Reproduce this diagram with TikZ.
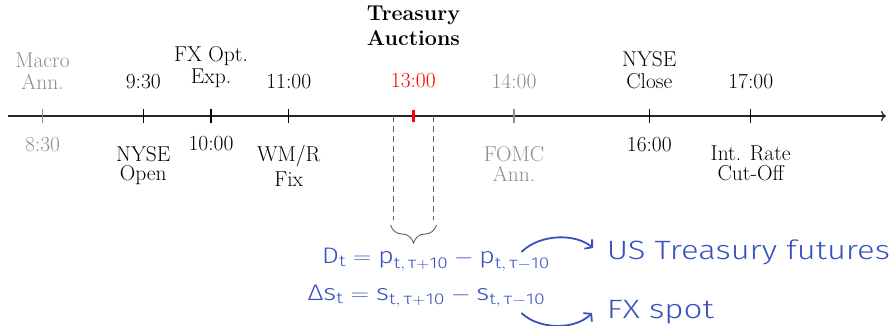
\documentclass[tikz,border=0pt]{standalone}
\usepackage{amsmath}
\usepackage{graphicx}
\usepackage{fontspec}
\newfontfamily\handfont{Fira Sans Light}
\usetikzlibrary{arrows.meta,decorations.pathreplacing}
\definecolor{hblue}{RGB}{55,80,190}
\definecolor{lgray}{RGB}{140,140,140}
\definecolor{dgray}{RGB}{95,95,95}
\newcommand{\hf}[1]{\text{\handfont #1}}
\begin{document}
\begin{tikzpicture}[x=1pt,y=-1pt,
  lab/.style={inner sep=0pt, align=center},
  uplab/.style={lab, anchor=south, font=\fontsize{21.5}{22}\selectfont},
  dnlab/.style={lab, anchor=north, font=\fontsize{21.5}{19.5}\selectfont},
  faint/.style={text=lgray},
  tickmark/.style={line width=1.1pt},
  formula/.style={inner sep=0pt, anchor=base west, text=hblue, font=\handfont\fontsize{22.5}{24}\selectfont},
  handtext/.style={inner sep=0pt, anchor=base west, text=hblue, font=\handfont\fontsize{26.5}{28}\selectfont},
  curvearrow/.style={draw=hblue, line width=1.8pt, line cap=round, -{Straight Barb[length=5pt,width=12pt,line width=1.8pt]}}
]
\useasboundingbox (0,0) rectangle (893,326);

% axis
\coordinate (ax0) at (8,116);
\coordinate (ax1) at (886,116);
\draw[line width=1.3pt, black!85, -{To[length=5pt,width=10pt]}] (ax0) -- (ax1);

% ticks
\foreach \nm/\xx in {b/143.3, c/211, d/288.7, g/649.3, h/750.7}{
  \coordinate (t\nm) at (\xx,116);
  \draw[tickmark] (\xx,109) -- (\xx,123);
}
\foreach \nm/\xx in {a/42.5, f/514}{
  \coordinate (t\nm) at (\xx,116);
  \draw[tickmark, lgray] (\xx,109) -- (\xx,123);
}
\coordinate (te) at (413.3,116);

% dashed window and brace
\coordinate (wl0) at (393.3,116);
\coordinate (wl1) at (393.3,220);
\coordinate (wr0) at (433.3,116);
\coordinate (wr1) at (433.3,220);
\draw[dgray, line width=0.8pt, dash pattern=on 6pt off 4pt] (wl0) -- (wl1);
\draw[dgray, line width=0.8pt, dash pattern=on 6pt off 4pt] (wr0) -- (wr1);
\coordinate (bl) at (390.5,225);
\coordinate (br) at (436.5,225);
\draw[dgray, line width=0.9pt, decorate, decoration={brace, amplitude=18pt}] (br) -- (bl);

\draw[red, line width=3pt] (413.3,110) -- (413.3,122);

% labels above
\node[uplab, faint] (macro) at (42.5,90) {Macro\\Ann.};
\node[uplab] (l930) at (143.3,89.3) {9:30};
\node[uplab] (fxopt) at (211,87.5) {FX Opt.\\Exp.};
\node[uplab] (l1100) at (288.7,89) {11:00};
\node[uplab, text=red] (l1300) at (413.3,88.3) {13:00};
\node[lab, anchor=south, font=\bfseries\fontsize{21.5}{25}\selectfont] (treas) at (413.5,45.7) {Treasury\\Auctions};
\node[uplab, faint] (l1400) at (514,89) {14:00};
\node[uplab] (nyseclose) at (649.3,89) {NYSE\\Close};
\node[uplab] (l1700) at (750.7,89) {17:00};

% labels below
\node[dnlab, faint] (l830) at (42.5,136.7) {8:30};
\node[dnlab] (nyseopen) at (143.3,146) {NYSE\\Open};
\node[dnlab] (l1000) at (211,136) {10:00};
\node[dnlab] (wmr) at (288.7,145.6) {WM/R\\[4pt]Fix};
\node[dnlab, faint] (fomc) at (514,146.7) {FOMC\\Ann.};
\node[dnlab] (l1600) at (649.3,136.7) {16:00};
\node[dnlab] (intrate) at (750.7,146) {Int. Rate\\Cut-Off};

% formulas
\node[formula] (f1) at (321.7,263.3) {\resizebox{228pt}{\height}{$\hf{D}_{\hf{t}} = \hf{p}_{\hf{t},\,\hf{τ}+\hf{10}} - \hf{p}_{\hf{t},\,\hf{τ}-\hf{10}}$}};
\node[formula] (f2) at (307.3,300.7) {\resizebox{238pt}{\height}{$\hf{Δs}_{\hf{t}} = \hf{s}_{\hf{t},\,\hf{τ}+\hf{10}} - \hf{s}_{\hf{t},\,\hf{τ}-\hf{10}}$}};

\node[handtext] (ust) at (606.7,259) {\resizebox{283pt}{\height}{US Treasury futures}};
\node[handtext] (fxs) at (606.7,318.5) {\resizebox{107pt}{\height}{FX spot}};

\coordinate (a1s) at (521.7,251.7);
\coordinate (a1e) at (593,248);
\coordinate (a2s) at (521.7,313.3);
\coordinate (a2e) at (592,313);
\draw[curvearrow] (a1s) .. controls (540,234) and (575,233) .. (a1e);
\draw[curvearrow] (a2s) .. controls (540,330) and (575,330) .. (a2e);
\end{tikzpicture}
\end{document}
